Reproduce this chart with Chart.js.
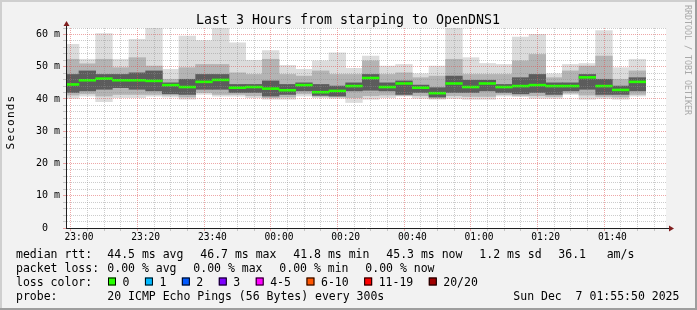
<!DOCTYPE html>
<html>
<head>
<meta charset="utf-8">
<title>Last 3 Hours from starping to OpenDNS1</title>
<script src="https://cdn.jsdelivr.net/npm/chart.js@4.4.1/dist/chart.umd.min.js"></script>
<style>
  html, body { margin: 0; padding: 0; background: #f2f2f2; }
  canvas { display: block; }
</style>
</head>
<body>
<canvas id="smokeChart" width="697" height="310"></canvas>
<script>
// start time of each 5 minute step
const slotStart = ['22:55', '23:00', '23:05', '23:10', '23:15', '23:20', '23:25', '23:30', '23:35',
    '23:40', '23:45', '23:50', '23:55', '00:00', '00:05', '00:10', '00:15', '00:20', '00:25',
    '00:30', '00:35', '00:40', '00:45', '00:50', '00:55', '01:00', '01:05', '01:10', '01:15',
    '01:20', '01:25', '01:30', '01:35', '01:40', '01:45'];

// smoke, in ms: outer band (min..max), middle band, dark core, median
const maxRtt   = [56.9, 52.3, 60.3, 52.3, 58.5, 61.9, 49.2, 59.5, 58.1, 61.9, 57.4, 52.0, 55.0, 50.4, 49.2, 51.8, 54.3, 49.5,
    53.3, 50.2, 50.7, 47.8, 50.2, 61.9, 52.8, 51.0, 50.7, 59.2, 60.0, 47.8, 50.7, 51.0, 61.2, 49.7, 52.3];
const upperMid = [52.3, 50.9, 52.3, 49.7, 52.8, 50.2, 46.1, 49.7, 50.7, 50.7, 48.1, 47.6, 52.3, 47.6, 47.1, 48.7, 47.6, 47.6,
    51.8, 47.6, 48.1, 46.6, 47.1, 52.3, 47.6, 47.6, 47.6, 51.8, 53.8, 46.6, 48.7, 50.2, 53.3, 46.1, 48.7];
const upperCore = [47.6, 48.7, 47.6, 47.6, 48.1, 48.7, 45.0, 46.1, 47.6, 47.6, 44.5, 44.5, 45.6, 44.5, 45.0, 44.5, 44.0, 45.0,
    47.6, 45.0, 45.6, 44.3, 43.5, 47.1, 45.8, 45.8, 44.5, 46.6, 47.6, 45.0, 45.0, 47.6, 46.1, 44.0, 46.6];
const medianRtt = [44.5, 45.8, 46.3, 45.8, 45.8, 45.6, 44.3, 43.7, 45.3, 45.9, 43.5, 43.7, 43.2, 42.7, 44.3, 42.1, 42.5, 44.0,
    46.5, 43.7, 44.8, 43.5, 41.8, 44.8, 43.7, 44.8, 43.7, 44.0, 44.3, 44.0, 44.0, 46.7, 44.0, 42.8, 45.3];
const lowerCore = [42.0, 42.5, 43.0, 43.5, 43.0, 42.5, 41.6, 41.4, 43.0, 43.0, 42.0, 42.0, 40.9, 41.4, 42.5, 41.1, 40.9, 42.5,
    42.7, 42.5, 41.4, 42.0, 40.6, 42.0, 42.0, 42.5, 42.0, 41.6, 42.0, 41.4, 42.5, 43.0, 41.4, 41.4, 42.5];
const lowerMid = [41.2, 41.6, 40.9, 41.4, 41.4, 41.4, 41.2, 40.6, 42.0, 41.4, 41.4, 41.0, 40.4, 40.6, 41.6, 40.8, 40.6, 40.4,
    41.0, 41.2, 41.1, 41.0, 40.2, 41.0, 40.8, 40.8, 41.4, 41.1, 41.0, 40.8, 41.8, 41.2, 40.8, 40.6, 41.4];
const minRtt   = [40.2, 40.9, 39.2, 40.4, 40.4, 40.9, 40.6, 39.9, 41.4, 40.9, 40.9, 40.4, 39.9, 39.9, 40.9, 40.4, 40.2, 38.9,
    39.9, 40.4, 40.9, 40.2, 39.9, 40.2, 39.9, 39.9, 40.9, 40.7, 40.2, 40.2, 41.4, 39.9, 40.2, 39.9, 40.9];
// lost pings (of 20) per step
const packetLoss = [0, 0, 0, 0, 0, 0, 0, 0, 0, 0, 0, 0, 0, 0, 0, 0, 0, 0,
    0, 0, 0, 0, 0, 0, 0, 0, 0, 0, 0, 0, 0, 0, 0, 0, 0];

const timeLabels = ['23:00', '23:20', '23:40', '00:00', '00:20', '00:40', '01:00', '01:20', '01:40'];
const yTickLabels = ['0  ', '10 m', '20 m', '30 m', '40 m', '50 m', '60 m'];

const lossLabels = ['0', '1', '2', '3', '4-5', '6-10', '11-19', '20/20'];
const lossColors = ['#26ff00', '#00b8ff', '#0059ff', '#7e00ff', '#ff00ff', '#ff5500', '#ff0000', '#a10000'];

const titleText = 'Last 3 Hours from starping to OpenDNS1';
const rttStats = ['44.5 ms avg', '46.7 ms max', '41.8 ms min', '45.3 ms now', '1.2 ms sd'];
const amPerSec = '36.1';
const lossStats = ['0.00 % avg', '0.00 % max', '0.00 % min', '0.00 % now'];
const probeText = '20 ICMP Echo Pings (56 Bytes) every 300s';
const dateText = 'Sun Dec  7 01:55:50 2025';

const MONO = '"DejaVu Sans Mono", monospace';
const AXIS_COLOR = '#1f1f1f';
const ARROW_COLOR = '#801f1f';
const MINOR_GRID = 'rgba(143, 143, 143, 0.45)';
const MAJOR_GRID = 'rgba(222, 79, 79, 0.5)';

// minutes after 23:00
function toMinutes(t) {
    const [h, m] = t.split(':').map(Number);
    let mins = h * 60 + m - 23 * 60;
    if (mins < -60) mins += 24 * 60;
    return mins;
}
const slotCenter = slotStart.map(t => toMinutes(t) + 2.5);

function band(lo, hi) {
    return slotCenter.map((x, i) => ({ x: x, y: [lo[i], hi[i]] }));
}

function lossIndex(n) {
    if (n <= 3) return n;
    if (n <= 5) return 4;
    if (n <= 10) return 5;
    if (n < 20) return 6;
    return 7;
}

const medianHalf = 0.3;
const medianData = slotCenter.map((x, i) => ({ x: x, y: [medianRtt[i] - medianHalf, medianRtt[i] + medianHalf] }));

// grid every 5 min / 2 ms
const xGrid = [];
for (let v = 0; v <= 175; v += 5) xGrid.push(v);
const yGrid = [];
for (let v = 0; v <= 62; v += 2) yGrid.push(v);

const rrdFrame = {
    id: 'rrdFrame',
    beforeDraw(chart) {
        const { ctx, width, height, chartArea: a } = chart;
        ctx.save();
        ctx.fillStyle = '#f2f2f2';
        ctx.fillRect(0, 0, width, height);
        ctx.fillStyle = '#cfcfcf';
        ctx.fillRect(0, 0, width, 2);
        ctx.fillRect(0, 0, 2, height);
        ctx.fillStyle = '#9e9e9e';
        ctx.fillRect(0, height - 2, width, 2);
        ctx.fillRect(width - 2, 0, 2, height);
        ctx.fillStyle = '#ffffff';
        ctx.fillRect(a.left, a.top, a.right - a.left, a.bottom - a.top);
        ctx.restore();
    },
    afterDraw(chart) {
        const { ctx, chartArea: a } = chart;
        ctx.save();

        // axis arrows
        const ax = Math.round(a.left) + 0.5;
        const ay = Math.round(a.bottom) + 0.5;
        ctx.strokeStyle = AXIS_COLOR;
        ctx.lineWidth = 1;
        ctx.beginPath();
        ctx.moveTo(ax, a.top);
        ctx.lineTo(ax, a.top - 3);
        ctx.moveTo(a.right, ay);
        ctx.lineTo(a.right + 3, ay);
        ctx.stroke();
        ctx.fillStyle = ARROW_COLOR;
        ctx.beginPath();
        ctx.moveTo(ax - 3, a.top - 2);
        ctx.lineTo(ax + 3, a.top - 2);
        ctx.lineTo(ax, a.top - 7);
        ctx.closePath();
        ctx.fill();
        ctx.beginPath();
        ctx.moveTo(a.right + 3, ay - 3);
        ctx.lineTo(a.right + 3, ay + 3);
        ctx.lineTo(a.right + 8, ay);
        ctx.closePath();
        ctx.fill();

        // title
        ctx.fillStyle = '#000';
        ctx.textBaseline = 'alphabetic';
        ctx.font = '13.3px ' + MONO;
        ctx.textAlign = 'center';
        ctx.fillText(titleText, 348, 24);

        // vertical label
        ctx.save();
        ctx.translate(14, 122);
        ctx.rotate(-Math.PI / 2);
        ctx.font = '11px ' + MONO;
        ctx.letterSpacing = '1.2px';
        ctx.fillText('Seconds', 0, 0);
        ctx.restore();

        // watermark
        ctx.save();
        ctx.translate(685, 5);
        ctx.rotate(Math.PI / 2);
        ctx.textAlign = 'left';
        ctx.font = '8.3px ' + MONO;
        ctx.fillStyle = '#a9a9a9';
        ctx.fillText('RRDTOOL / TOBI OETIKER', 0, 0);
        ctx.restore();

        // legend
        ctx.textAlign = 'left';
        ctx.font = '11.5px ' + MONO;
        ctx.fillText('median rtt:', 16, 258);
        rttStats.forEach((s, i) => ctx.fillText(s, 107.3 + 93 * i, 258));
        ctx.fillText(amPerSec, 558.3, 258);
        ctx.fillText('am/s', 606.7, 258);

        ctx.fillText('packet loss:', 16, 272);
        lossStats.forEach((s, i) => ctx.fillText(s, 107.3 + 86 * i, 272));

        ctx.fillText('loss color:', 16, 286);
        let x = 108;
        lossLabels.forEach((label, i) => {
            ctx.fillStyle = lossColors[i];
            ctx.fillRect(x, 277.5, 8, 8);
            ctx.strokeStyle = '#000';
            ctx.strokeRect(x + 0.5, 278, 7, 7);
            ctx.fillStyle = '#000';
            ctx.fillText(label, x + 14.5, 286);
            x += 14.5 + ctx.measureText(label).width + 15.5;
        });

        ctx.fillText('probe:', 16, 300);
        ctx.fillText(probeText, 107.3, 300);
        ctx.fillText(dateText, 513.3, 300);
        ctx.restore();
    }
};

const barDefaults = { grouped: false, barPercentage: 1, categoryPercentage: 1, borderWidth: 0 };

new Chart(document.getElementById('smokeChart'), {
    type: 'bar',
    data: {
        datasets: [
            Object.assign({ label: 'median rtt', data: medianData,
                backgroundColor: c => lossColors[lossIndex(packetLoss[c.dataIndex])] }, barDefaults),
            Object.assign({ label: 'core', data: band(lowerCore, upperCore), backgroundColor: '#5c5c5c' }, barDefaults),
            Object.assign({ label: 'middle', data: band(lowerMid, upperMid), backgroundColor: '#b4b4b4' }, barDefaults),
            Object.assign({ label: 'outer', data: band(minRtt, maxRtt), backgroundColor: '#dcdcdc' }, barDefaults)
        ]
    },
    options: {
        responsive: false,
        animation: false,
        events: [],
        layout: { padding: { top: 28, right: 31, bottom: 0, left: 0 } },
        plugins: {
            legend: { display: false },
            tooltip: { enabled: false },
            title: { display: false }
        },
        scales: {
            x: {
                type: 'linear',
                min: -3.9,
                max: 176.1,
                offset: false,
                afterBuildTicks: s => { s.ticks = xGrid.map(v => ({ value: v })); },
                afterFit: s => { s.height = 82; },
                ticks: {
                    autoSkip: false,
                    maxRotation: 0,
                    padding: 1,
                    color: '#000',
                    font: { family: MONO, size: 9.6 },
                    callback: v => (v % 20 === 0 ? timeLabels[v / 20] : '')
                },
                grid: {
                    z: 1,
                    tickLength: 3,
                    color: c => (c.tick && c.tick.value % 20 === 0 ? MAJOR_GRID : MINOR_GRID)
                },
                border: { color: AXIS_COLOR, width: 1, z: 2, dash: [1, 1] }
            },
            y: {
                min: 0,
                max: 62,
                afterBuildTicks: s => { s.ticks = yGrid.map(v => ({ value: v })); },
                afterFit: s => { s.width = 66; },
                ticks: {
                    autoSkip: false,
                    padding: 3,
                    color: '#000',
                    font: { family: MONO, size: 10 },
                    callback: v => (v % 10 === 0 ? yTickLabels[v / 10] : '')
                },
                grid: {
                    z: 1,
                    tickLength: 3,
                    color: c => (c.tick && c.tick.value % 10 === 0 ? MAJOR_GRID : MINOR_GRID)
                },
                border: { color: AXIS_COLOR, width: 1, z: 2, dash: [1, 1] }
            }
        }
    },
    plugins: [rrdFrame]
});
</script>
</body>
</html>
